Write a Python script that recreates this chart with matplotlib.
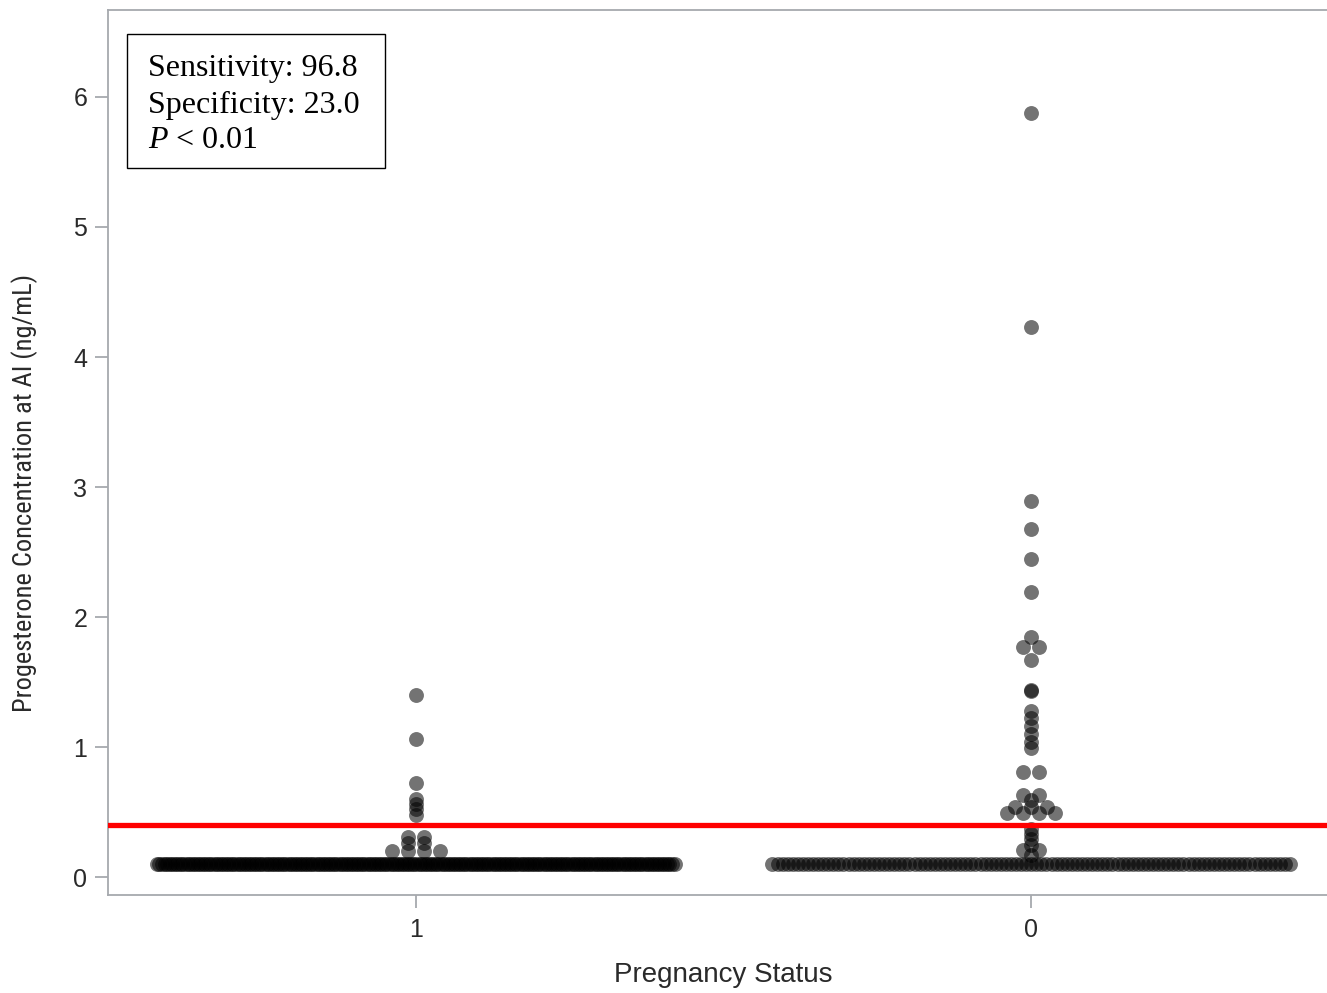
import numpy as np
import matplotlib
matplotlib.use("Agg")
from matplotlib import pyplot as plt
from matplotlib import font_manager
from matplotlib.patches import Rectangle

# Serif text in the stats box, italic P through mathtext
plt.rcParams["mathtext.fontset"] = "custom"
plt.rcParams["mathtext.rm"] = "Liberation Serif"
plt.rcParams["mathtext.it"] = "Liberation Serif:italic"

# Pregnancy status groups, in plotting order
categories = ["1", "0"]

# Progesterone concentration at AI (ng/mL)
pregnant = ([0.10] * 204 + [0.20] * 4 + [0.26] * 2 + [0.31] * 2
            + [0.48, 0.52, 0.56, 0.60, 0.72, 1.06, 1.40])
open_cows = ([0.10] * 103 + [0.17, 0.21, 0.21, 0.25, 0.29, 0.33, 0.37]
             + [0.49] * 4 + [0.54] * 3 + [0.59, 0.63, 0.63, 0.81, 0.81]
             + [0.99, 1.04, 1.10, 1.16, 1.22, 1.28, 1.43, 1.44]
             + [1.67, 1.77, 1.77, 1.85, 2.19, 2.45, 2.68, 2.89, 4.23, 5.88])
groups = [pregnant, open_cows]

cutoff = 0.4
stats_lines = ["Sensitivity: 96.8", "Specificity: 23.0", r"$\mathit{P}$ < 0.01"]

W, H = 1327, 993


def jitter(values, center, step, width):
    # spread tied values side by side, squeeze big ties into a fixed width
    values = np.asarray(values)
    xs = np.empty(len(values))
    for v in np.unique(values):
        idx = np.where(values == v)[0]
        k = len(idx)
        if (k - 1) * step > width:
            offs = np.linspace(-width / 2, width / 2, k)
        else:
            offs = (np.arange(k) - (k - 1) / 2) * step
        xs[idx] = center + offs
    return xs


# narrow sans for the y label if one is installed
names = {f.name for f in font_manager.fontManager.ttflist}
narrow = [n for n in ["Liberation Sans Narrow", "Roboto Condensed",
                      "Open Sans Condensed", "DejaVu Sans Condensed"]
          if n in names]
if narrow:
    ylab_family, ylab_size = [narrow[0], "Liberation Sans"], 19
else:
    ylab_family, ylab_size = ["Liberation Sans"], 17

fig = plt.figure(figsize=(W / 100, H / 100), dpi=100)
ax = fig.add_axes([108 / W, 1 - 895 / H, 1231 / W, 885 / H])

for i, vals in enumerate(groups):
    xs = jitter(vals, i, 0.026, 0.841)
    ax.scatter(xs, vals, s=115, color="black", alpha=0.55, linewidths=0,
               zorder=2)

ax.axhline(cutoff, color="#ff0000", lw=3.8, zorder=3)

ax.set_xlim(-0.5, 1.5)
ax.set_ylim(-0.138, 6.669)
ax.set_xticks(range(len(categories)))
ax.set_xticklabels(categories)
ax.set_yticks(range(0, 7))

spine_col = "#a6a9ae"
for side in ["left", "bottom", "top"]:
    ax.spines[side].set_color(spine_col)
    ax.spines[side].set_linewidth(1.3)
ax.spines["right"].set_visible(False)
ax.tick_params(axis="both", colors=spine_col, labelcolor="#2a2a2a",
               length=9.5, width=1.3, labelsize=18)
ax.tick_params(axis="y", pad=5.5)
ax.tick_params(axis="x", pad=7)
for lab in ax.get_xticklabels() + ax.get_yticklabels():
    lab.set_family("Liberation Sans")

ax.set_xlabel("Pregnancy Status", fontsize=20, family="Liberation Sans",
              color="#2a2a2a")
ax.xaxis.set_label_coords(0.5, -0.076)
ax.set_ylabel("Progesterone Concentration at AI (ng/mL)", fontsize=ylab_size,
              family=ylab_family, color="#2a2a2a")
ax.yaxis.set_label_coords(-0.057, 0.454)

# stats box, placed in figure pixels
fig.patches.append(Rectangle((127 / W, 1 - 168 / H), 258 / W, 134 / H,
                             transform=fig.transFigure, facecolor="white",
                             edgecolor="black", lw=1.0, zorder=5))
for line, base in zip(stats_lines, [76, 112.5, 148.5]):
    fig.text(148 / W, 1 - base / H, line, family="Liberation Serif",
             fontsize=23, va="baseline", ha="left", zorder=6)

fig.savefig("out.png", dpi=100)
